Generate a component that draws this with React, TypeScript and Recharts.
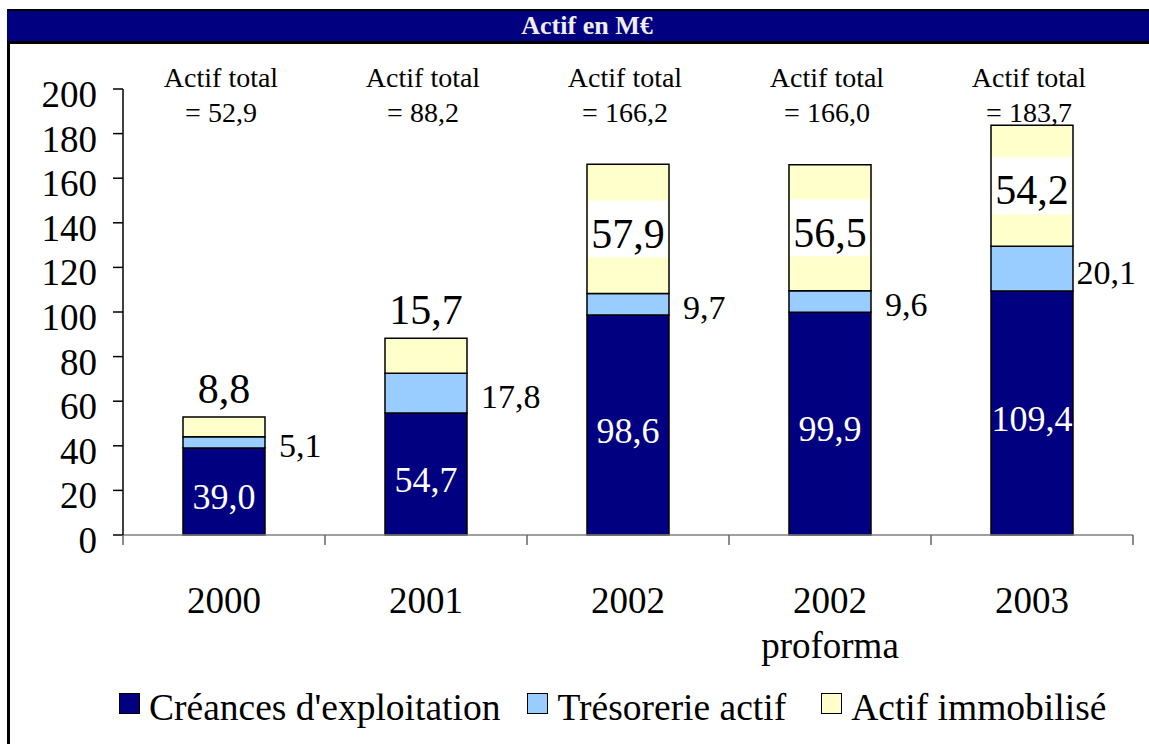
import { BarChart, Bar, XAxis, YAxis, LabelList, Legend } from 'recharts';

const categories = ['2000', '2001', '2002', '2002\nproforma', '2003'];
const creances = [39.0, 54.7, 98.6, 99.9, 109.4];
const tresorerie = [5.1, 17.8, 9.7, 9.6, 20.1];
const immobilise = [8.8, 15.7, 57.9, 56.5, 54.2];
const seriesKeys = ['creances', 'tresorerie', 'immobilise'];
const seriesNames = ["Créances d'exploitation", 'Trésorerie actif', 'Actif immobilisé'];
const seriesColors = ['#000080', '#99CCFF', '#FFFFCC'];
const yTicks = [0, 20, 40, 60, 80, 100, 120, 140, 160, 180, 200];

const FONT = "'Times New Roman', 'Liberation Serif', Times, 'DejaVu Serif', serif";
const fmt = (v: number) => v.toFixed(1).replace('.', ',');

const data = categories.map((cat, i) => ({
  cat,
  creances: creances[i],
  tresorerie: tresorerie[i],
  immobilise: immobilise[i],
  total: creances[i] + tresorerie[i] + immobilise[i],
}));

// rough width of a label in Times-like digits
const textWidth = (s: string, size: number) =>
  s.split('').reduce((w, c) => w + (c === ',' ? 0.25 : 0.5), 0) * size;

function InsideLabel(props: any) {
  const x = Number(props.x), y = Number(props.y);
  const w = Number(props.width), h = Number(props.height);
  return (
    <text x={x + w / 2} y={y + h / 2 + 5} dy="0.35em" textAnchor="middle"
      fill="#fff" fontSize={36} style={{ fontFamily: FONT }}>
      {fmt(Number(props.value))}
    </text>
  );
}

function SideLabel(props: any) {
  const x = Number(props.x), y = Number(props.y);
  const w = Number(props.width), h = Number(props.height);
  const label = fmt(Number(props.value));
  const tx = Math.min(x + w + 14, 1136 - textWidth(label, 34));
  return (
    <text x={tx} y={y + h / 2 + 3} dy="0.35em" textAnchor="start"
      fill="#000" fontSize={34} style={{ fontFamily: FONT }}>
      {label}
    </text>
  );
}

function TopLabel(props: any) {
  const x = Number(props.x), y = Number(props.y);
  const w = Number(props.width), h = Number(props.height);
  const label = fmt(Number(props.value));
  if (h > 60) {
    const cy = y + h / 2;
    return (
      <g>
        <rect x={x + 1.5} y={cy - 28.5} width={w - 3} height={57} fill="#fff" />
        <text x={x + w / 2} y={cy + 4} dy="0.35em" textAnchor="middle"
          fill="#000" fontSize={42} style={{ fontFamily: FONT }}>
          {label}
        </text>
      </g>
    );
  }
  return (
    <text x={x + w / 2} y={y - 14} textAnchor="middle"
      fill="#000" fontSize={42} style={{ fontFamily: FONT }}>
      {label}
    </text>
  );
}

function TotalTick(props: any) {
  const { x, y, index } = props;
  return (
    <g fontSize={28} fill="#000" style={{ fontFamily: FONT }}>
      <text x={x - 3} y={y - 2} textAnchor="middle">Actif total</text>
      <text x={x - 3} y={y + 33} textAnchor="middle">= {fmt(data[index].total)}</text>
    </g>
  );
}

function CategoryTick(props: any) {
  const { x, y, payload, index, visibleTicksCount } = props;
  const half = payload.offset ?? 101;
  const lines = String(payload.value).split('\n');
  return (
    <g>
      <line x1={x - half} y1={y} x2={x - half} y2={y + 10} stroke="#666" strokeWidth={1.5} />
      {index === visibleTicksCount - 1 && (
        <line x1={x + half} y1={y} x2={x + half} y2={y + 10} stroke="#666" strokeWidth={1.5} />
      )}
      {lines.map((l, i) => (
        <text key={i} x={x} y={y + 78 + i * 45} textAnchor="middle"
          fill="#000" fontSize={37} style={{ fontFamily: FONT }}>
          {l}
        </text>
      ))}
    </g>
  );
}

function ValueTick(props: any) {
  const { x, y, payload } = props;
  return (
    <text x={x} y={y + 5} dy="0.35em" textAnchor="end"
      fill="#000" fontSize={37} style={{ fontFamily: FONT }}>
      {payload.value}
    </text>
  );
}

function LegendBox() {
  return (
    <div style={{ display: 'flex', alignItems: 'center', whiteSpace: 'nowrap', fontFamily: FONT, fontSize: 37.5, lineHeight: 1 }}>
      {seriesNames.map((name, i) => (
        <div key={name} style={{ display: 'flex', alignItems: 'center', marginRight: i === 0 ? 27 : 35 }}>
          <span style={{
            width: 21, height: 21, background: seriesColors[i], border: '1px solid #000',
            marginRight: 9, position: 'relative', top: -4, boxSizing: 'border-box',
          }} />
          <span>{name}</span>
        </div>
      ))}
    </div>
  );
}

export default function App() {
  return (
    <div style={{ position: 'absolute', left: 0, top: 0, width: 1149, height: 744, overflow: 'hidden', background: '#fff', fontFamily: FONT }}>
      <div style={{
        position: 'absolute', left: 7, top: 9, width: 1160, height: 30, background: '#000080',
        borderTop: '2px solid #000', borderBottom: '3px solid #000',
        color: '#eee', fontWeight: 'bold', fontSize: 26,
        textAlign: 'center', lineHeight: '30px',
      }}>
        Actif en M€
      </div>
      <div style={{ position: 'absolute', left: 7, top: 41, width: 3, height: 710, background: '#000' }} />
      <div style={{ position: 'absolute', left: 0, top: 0 }}>
        <BarChart width={1149} height={744} data={data}
          margin={{ top: 39, right: 16, left: 10, bottom: 0 }}
          barCategoryGap="29.7%" style={{ fontFamily: FONT }}>
          <XAxis xAxisId="top" orientation="top" dataKey="cat" height={50}
            axisLine={false} tickLine={false} tickSize={0} tickMargin={0}
            interval={0} tick={<TotalTick />} />
          <XAxis dataKey="cat" height={209} axisLine={{ stroke: '#808080', strokeWidth: 1.5 }}
            tickLine={false} tickSize={0} tickMargin={0} interval={0} tick={<CategoryTick />} />
          <YAxis width={113} domain={[0, 200]} ticks={yTicks} interval={0}
            axisLine={{ stroke: '#000', strokeWidth: 1.5 }}
            tickLine={{ stroke: '#000', strokeWidth: 1.5 }} tickSize={10} tickMargin={16}
            tick={<ValueTick />} />
          <Legend layout="horizontal" verticalAlign="middle" align="center"
            wrapperStyle={{ left: 119, top: 689, width: 1030 }} content={<LegendBox />} />
          {seriesKeys.map((key, i) => (
            <Bar key={key} dataKey={key} name={seriesNames[i]} stackId="a" fill={seriesColors[i]}
              stroke="#000" strokeWidth={1.5} isAnimationActive={false}>
              <LabelList dataKey={key}
                content={i === 0 ? <InsideLabel /> : i === 1 ? <SideLabel /> : <TopLabel />} />
            </Bar>
          ))}
        </BarChart>
      </div>
    </div>
  );
}
